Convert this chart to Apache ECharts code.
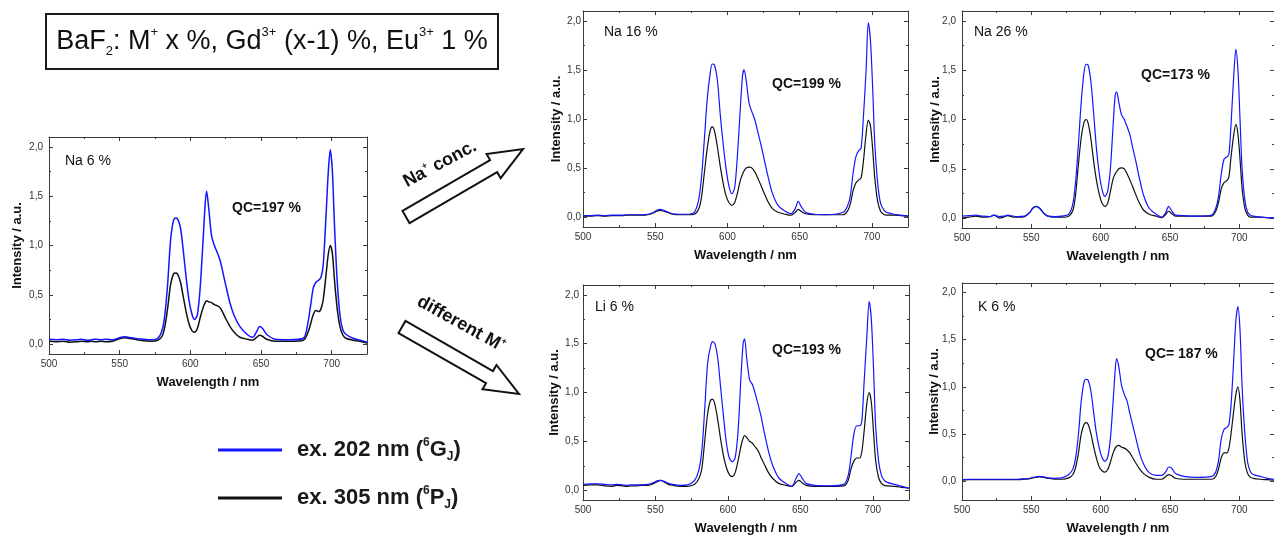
<!DOCTYPE html>
<html>
<head>
<meta charset="utf-8">
<script src="https://cdn.jsdelivr.net/npm/echarts@6/dist/echarts.min.js"></script>
<style>
html,body{margin:0;padding:0;background:#fff}
#c{width:1274px;height:536px}
</style>
</head>
<body>
<div id="c"></div>
<script>
// Sampling wavelengths (nm), shared by every spectrum below
const wavelength = [500,505,510,515,520,523,527,530,533,537,
  540,545,549,551,553.5,556,559,562,567,572,
  577,580,582,584,586,588,589.5,591,593,595,
  597,599,601,603,605,607,609,610.5,611.5,613,
  615,617,619,621,623,625,628,631,635,640,
  644,647,649,651,654,660,670,680,683,685,
  687,689,691,692.5,694,696,697.5,699,700.5,702,
  704,706,708,710,715,720,725];

// Na 6 %
const na6Ex202 = [0.05,0.045,0.05,0.04,0.045,0.05,0.04,0.045,0.05,0.045,
  0.05,0.045,0.06,0.07,0.075,0.07,0.065,0.055,0.05,0.045,
  0.06,0.14,0.3,0.62,1.05,1.25,1.28,1.27,1.18,0.95,
  0.68,0.45,0.31,0.25,0.3,0.58,1.05,1.42,1.55,1.38,
  1.1,1.0,0.93,0.85,0.73,0.6,0.42,0.29,0.18,0.1,
  0.07,0.13,0.18,0.16,0.1,0.05,0.045,0.06,0.2,0.38,
  0.57,0.63,0.65,0.68,0.8,1.3,1.72,1.97,1.75,1.2,
  0.62,0.28,0.14,0.1,0.06,0.04,0.02];
const na6Ex305 = [0.03,0.025,0.03,0.02,0.025,0.03,0.025,0.03,0.025,0.03,
  0.025,0.03,0.05,0.06,0.065,0.06,0.055,0.045,0.035,0.03,
  0.04,0.08,0.18,0.37,0.6,0.71,0.72,0.71,0.63,0.48,
  0.33,0.21,0.14,0.12,0.16,0.27,0.37,0.42,0.44,0.43,
  0.42,0.4,0.39,0.37,0.32,0.26,0.18,0.12,0.07,0.05,
  0.04,0.07,0.09,0.08,0.05,0.03,0.03,0.04,0.11,0.2,
  0.3,0.34,0.33,0.36,0.45,0.7,0.9,1.0,0.92,0.65,
  0.35,0.17,0.09,0.06,0.04,0.03,0.01];

// Na 16 %
const na16Ex202 = [0.015,0.015,0.02,0.015,0.02,0.02,0.02,0.025,0.025,0.025,
  0.025,0.03,0.05,0.07,0.08,0.07,0.05,0.035,0.03,0.03,
  0.05,0.17,0.4,0.79,1.2,1.46,1.56,1.55,1.4,1.05,
  0.75,0.5,0.32,0.24,0.3,0.65,1.13,1.45,1.5,1.39,
  1.16,1.07,0.99,0.87,0.75,0.62,0.42,0.25,0.12,0.06,
  0.035,0.09,0.16,0.11,0.05,0.03,0.025,0.05,0.11,0.21,
  0.45,0.62,0.68,0.7,0.99,1.5,1.98,1.8,1.33,0.75,
  0.35,0.14,0.08,0.05,0.03,0.02,0.01];
const na16Ex305 = [0.01,0.01,0.015,0.01,0.015,0.015,0.015,0.02,0.02,0.02,
  0.02,0.025,0.045,0.06,0.07,0.06,0.045,0.03,0.025,0.025,
  0.03,0.08,0.2,0.45,0.7,0.88,0.92,0.88,0.72,0.52,
  0.35,0.22,0.15,0.12,0.15,0.25,0.38,0.44,0.47,0.5,
  0.51,0.5,0.46,0.4,0.33,0.26,0.16,0.09,0.05,0.03,
  0.02,0.05,0.08,0.06,0.035,0.025,0.025,0.025,0.06,0.13,
  0.27,0.35,0.38,0.4,0.55,0.85,0.99,0.93,0.7,0.4,
  0.16,0.06,0.03,0.02,0.02,0.015,0.01];

// Na 26 %
const na26Ex202 = [0.02,0.025,0.03,0.02,0.015,0.03,0.015,0.02,0.03,0.02,
  0.015,0.02,0.06,0.1,0.12,0.1,0.05,0.02,0.015,0.02,
  0.04,0.15,0.38,0.76,1.18,1.48,1.56,1.55,1.38,1.05,
  0.7,0.45,0.29,0.22,0.27,0.5,0.95,1.25,1.28,1.18,
  1.05,1.0,0.93,0.85,0.72,0.6,0.4,0.23,0.1,0.04,
  0.01,0.06,0.12,0.08,0.03,0.025,0.02,0.03,0.1,0.22,
  0.45,0.6,0.62,0.65,0.95,1.45,1.71,1.5,1.0,0.5,
  0.18,0.06,0.03,0.02,0.01,0.005,0.0];
const na26Ex305 = [0.0,0.01,0.02,0.01,0.015,0.03,0.0,0.01,0.025,0.01,
  0.01,0.015,0.06,0.1,0.12,0.1,0.05,0.02,0.01,0.01,
  0.02,0.08,0.25,0.55,0.82,0.97,1.0,0.96,0.8,0.57,
  0.38,0.24,0.15,0.12,0.15,0.27,0.4,0.45,0.47,0.5,
  0.51,0.5,0.45,0.39,0.32,0.25,0.15,0.08,0.04,0.02,
  0.005,0.04,0.07,0.05,0.02,0.02,0.02,0.02,0.07,0.16,
  0.3,0.36,0.38,0.42,0.62,0.85,0.95,0.85,0.6,0.3,
  0.1,0.03,0.01,0.01,0.01,0.005,0.0];

// Li 6 %
const li6Ex202 = [0.06,0.065,0.065,0.06,0.055,0.06,0.055,0.05,0.055,0.055,
  0.055,0.06,0.08,0.095,0.1,0.09,0.07,0.06,0.05,0.055,
  0.1,0.21,0.4,0.83,1.3,1.47,1.52,1.5,1.35,1.05,
  0.75,0.48,0.33,0.29,0.33,0.6,1.15,1.5,1.55,1.35,
  1.13,1.08,0.98,0.87,0.75,0.6,0.4,0.25,0.13,0.07,
  0.04,0.12,0.17,0.13,0.07,0.05,0.045,0.06,0.15,0.35,
  0.58,0.66,0.66,0.72,1.1,1.6,1.93,1.75,1.25,0.65,
  0.3,0.15,0.1,0.08,0.06,0.04,0.02];
const li6Ex305 = [0.05,0.055,0.055,0.045,0.04,0.05,0.045,0.04,0.045,0.045,
  0.05,0.05,0.07,0.085,0.1,0.085,0.06,0.05,0.04,0.04,
  0.06,0.12,0.22,0.5,0.78,0.92,0.93,0.88,0.72,0.52,
  0.35,0.23,0.16,0.14,0.18,0.3,0.45,0.53,0.56,0.54,
  0.5,0.48,0.44,0.4,0.33,0.27,0.18,0.12,0.07,0.05,
  0.04,0.08,0.1,0.08,0.05,0.04,0.04,0.045,0.1,0.22,
  0.3,0.33,0.33,0.4,0.6,0.9,1.0,0.9,0.6,0.3,
  0.13,0.07,0.05,0.045,0.04,0.03,0.02];

// K 6 %
const k6Ex202 = [0.015,0.02,0.02,0.02,0.02,0.02,0.02,0.02,0.02,0.02,
  0.02,0.025,0.03,0.04,0.045,0.05,0.045,0.035,0.03,0.035,
  0.07,0.13,0.25,0.5,0.85,1.05,1.08,1.07,0.95,0.72,
  0.5,0.35,0.25,0.21,0.25,0.45,0.85,1.18,1.3,1.22,
  1.02,0.92,0.85,0.72,0.6,0.48,0.3,0.18,0.09,0.06,
  0.06,0.1,0.15,0.14,0.08,0.05,0.04,0.05,0.1,0.22,
  0.45,0.55,0.57,0.6,0.8,1.3,1.7,1.85,1.6,1.0,
  0.5,0.2,0.1,0.07,0.05,0.03,0.02];
const k6Ex305 = [0.01,0.015,0.015,0.015,0.015,0.015,0.015,0.015,0.015,0.015,
  0.015,0.02,0.025,0.035,0.04,0.045,0.04,0.03,0.02,0.02,
  0.035,0.07,0.15,0.3,0.5,0.6,0.62,0.6,0.5,0.36,
  0.24,0.15,0.11,0.095,0.12,0.2,0.3,0.35,0.37,0.38,
  0.36,0.35,0.33,0.3,0.25,0.2,0.13,0.08,0.04,0.02,
  0.02,0.05,0.07,0.06,0.03,0.02,0.02,0.02,0.05,0.13,
  0.25,0.3,0.3,0.35,0.5,0.75,0.92,1.0,0.85,0.5,
  0.2,0.08,0.04,0.03,0.02,0.015,0.01];

// Axis ticks
const xMajor = [500, 550, 600, 650, 700];
const xMinor = [525, 575, 625, 675, 725];
const yMajor = [0, 0.5, 1, 1.5, 2];
const yMinor = [0.25, 0.75, 1.25, 1.75];

// Panel texts and value ranges
const panelNames = ['Na 6 %', 'Na 16 %', 'Na 26 %', 'Li 6 %', 'K 6 %'];
const qcLabels = ['QC=197 %', 'QC=199 %', 'QC=173 %', 'QC=193 %', 'QC= 187 %'];
const yMins = [-0.1, -0.1, -0.1, -0.1, -0.2];
const ex202Sets = [na6Ex202, na16Ex202, na26Ex202, li6Ex202, k6Ex202];
const ex305Sets = [na6Ex305, na16Ex305, na26Ex305, li6Ex305, k6Ex305];
const seriesNames = ['ex. 202 nm', 'ex. 305 nm'];

// ---- styling / layout ----
const FONT = "'Liberation Sans', Arial, Helvetica, sans-serif";
const AX = '#3a3a3a';
const BLUE = '#1515ff';
const BLACK = '#111111';

const panels = [
  {left: 49,  top: 137, width: 318, height: 217, yGap: 25, yMargin: 6, name: [65, 161],  qc: [232, 208],  lw: 1.5},
  {left: 583, top: 11,  width: 325, height: 216, yGap: 20, yMargin: 2, name: [604, 32],  qc: [772, 84],   lw: 1.2},
  {left: 962, top: 11,  width: 320, height: 217, yGap: 20, yMargin: 6, name: [974, 32],  qc: [1141, 75],  lw: 1.2},
  {left: 583, top: 285, width: 326, height: 216, yGap: 22, yMargin: 4, name: [595, 307], qc: [772, 350],  lw: 1.2},
  {left: 962, top: 283, width: 320, height: 217, yGap: 21, yMargin: 6, name: [978, 307], qc: [1145, 354], lw: 1.2}
];

const fmt = v => v.toFixed(1).replace('.', ',');

const grids = [], xAxes = [], yAxes = [], series = [], graphics = [];

panels.forEach((g, p) => {
  grids.push({left: g.left, top: g.top, width: g.width, height: g.height, show: false});
  const xIdx = xAxes.length, yIdx = yAxes.length;
  const xb = {type: 'value', gridIndex: p, min: 500, max: 725, splitLine: {show: false}};
  const yb = {type: 'value', gridIndex: p, min: yMins[p], max: 2.1, splitLine: {show: false}};
  const tickStyle = {color: AX, width: 1};
  const nameStyle = {fontWeight: 'bold', fontSize: 13, color: '#111', fontFamily: FONT};
  // bottom axis with labels, ticks pointing into the frame
  xAxes.push(Object.assign({}, xb, {
    position: 'bottom',
    axisLine: {onZero: false, lineStyle: {color: AX, width: 1}},
    axisTick: {customValues: xMajor, inside: true, length: 4, lineStyle: tickStyle},
    axisLabel: {customValues: xMajor, color: '#333', fontSize: 10, fontFamily: FONT, margin: 5},
    name: 'Wavelength / nm', nameLocation: 'middle', nameGap: 22, nameMoveOverlap: false,
    nameTextStyle: nameStyle
  }));
  xAxes.push(Object.assign({}, xb, {
    position: 'bottom', axisLine: {show: false, onZero: false},
    axisTick: {customValues: xMinor, inside: true, length: 2, lineStyle: tickStyle}, axisLabel: {show: false}
  }));
  // mirrored top axis
  xAxes.push(Object.assign({}, xb, {
    position: 'top', axisLine: {onZero: false, lineStyle: {color: AX, width: 1}},
    axisTick: {customValues: xMajor, inside: true, length: 4, lineStyle: tickStyle}, axisLabel: {show: false}
  }));
  xAxes.push(Object.assign({}, xb, {
    position: 'top', axisLine: {show: false, onZero: false},
    axisTick: {customValues: xMinor, inside: true, length: 2, lineStyle: tickStyle}, axisLabel: {show: false}
  }));
  // left axis with labels
  yAxes.push(Object.assign({}, yb, {
    position: 'left',
    axisLine: {onZero: false, lineStyle: {color: AX, width: 1}},
    axisTick: {customValues: yMajor, inside: true, length: 4, lineStyle: tickStyle},
    axisLabel: {customValues: yMajor, formatter: fmt, color: '#333', fontSize: 10, fontFamily: FONT, margin: g.yMargin},
    name: 'Intensity / a.u.', nameLocation: 'middle', nameGap: g.yGap, nameRotate: 90, nameMoveOverlap: false,
    nameTextStyle: nameStyle
  }));
  yAxes.push(Object.assign({}, yb, {
    position: 'left', axisLine: {show: false, onZero: false},
    axisTick: {customValues: yMinor, inside: true, length: 2, lineStyle: tickStyle}, axisLabel: {show: false}
  }));
  // mirrored right axis
  yAxes.push(Object.assign({}, yb, {
    position: 'right', axisLine: {onZero: false, lineStyle: {color: AX, width: 1}},
    axisTick: {customValues: yMajor, inside: true, length: 4, lineStyle: tickStyle}, axisLabel: {show: false}
  }));
  yAxes.push(Object.assign({}, yb, {
    position: 'right', axisLine: {show: false, onZero: false},
    axisTick: {customValues: yMinor, inside: true, length: 2, lineStyle: tickStyle}, axisLabel: {show: false}
  }));

  const mk = (name, vals, color) => ({
    name: name, type: 'line', xAxisIndex: xIdx, yAxisIndex: yIdx,
    data: wavelength.map((w, i) => [w, vals[i]]),
    showSymbol: false, smooth: 0.3, clip: true,
    lineStyle: {color: color, width: g.lw}, itemStyle: {color: color},
    emphasis: {disabled: true}
  });
  series.push(mk(seriesNames[1], ex305Sets[p], BLACK));
  series.push(mk(seriesNames[0], ex202Sets[p], BLUE));

  graphics.push({type: 'text', x: g.name[0], y: g.name[1],
    style: {text: panelNames[p], font: '14px ' + FONT, fill: '#111', align: 'left', verticalAlign: 'middle'}});
  graphics.push({type: 'text', x: g.qc[0], y: g.qc[1],
    style: {text: qcLabels[p], font: 'bold 14px ' + FONT, fill: '#111', align: 'left', verticalAlign: 'middle'}});
});

// header box
graphics.push({type: 'rect', shape: {x: 46, y: 14, width: 452, height: 55},
  style: {fill: '#fff', stroke: '#1a1a1a', lineWidth: 2}});
graphics.push({type: 'text', x: 272, y: 42, style: {
  text: '{t|BaF}{sb|2}{t|: M}{sp|+}{t| x %, Gd}{sp|3+}{t| (x-1) %, Eu}{sp|3+}{t| 1 %}',
  align: 'center', verticalAlign: 'middle',
  rich: {
    t: {fontSize: 27, fontFamily: FONT, fill: '#111', lineHeight: 32},
    sp: {fontSize: 13, fontFamily: FONT, fill: '#111', lineHeight: 13, verticalAlign: 'top'},
    sb: {fontSize: 13, fontFamily: FONT, fill: '#111', lineHeight: 13, verticalAlign: 'bottom'}
  }
}});

// hollow arrows between the panels
function arrowPoints(x0, y0, x1, y1, halfShaft, halfHead, headLen) {
  const dx = x1 - x0, dy = y1 - y0, L = Math.hypot(dx, dy);
  const ux = dx / L, uy = dy / L, nx = -uy, ny = ux;
  const at = (a, b) => [x0 + ux * a + nx * b, y0 + uy * a + ny * b];
  return [at(0, -halfShaft), at(L - headLen, -halfShaft), at(L - headLen, -halfHead), at(L, 0),
          at(L - headLen, halfHead), at(L - headLen, halfShaft), at(0, halfShaft)];
}
graphics.push({type: 'polygon', shape: {points: arrowPoints(406, 217, 523, 149, 7, 14, 34)},
  style: {fill: '#fff', stroke: '#111', lineWidth: 2}});
graphics.push({type: 'polygon', shape: {points: arrowPoints(402, 327, 519, 394, 7, 14, 34)},
  style: {fill: '#fff', stroke: '#111', lineWidth: 2}});
const arrowRich = {
  b: {fontSize: 18, fontWeight: 'bold', fontFamily: FONT, fill: '#111', lineHeight: 20},
  s: {fontSize: 9, fontWeight: 'bold', fontFamily: FONT, fill: '#111', lineHeight: 9, verticalAlign: 'top'}
};
graphics.push({type: 'text', x: 440, y: 164, rotation: 28 * Math.PI / 180,
  style: {text: '{b|Na}{s|+}{b| conc.}', align: 'center', verticalAlign: 'middle', rich: arrowRich}});
graphics.push({type: 'text', x: 461, y: 324, rotation: -29 * Math.PI / 180,
  style: {text: '{b|different M}{s|+}', align: 'center', verticalAlign: 'middle', rich: arrowRich}});

const legendText = {
  'ex. 202 nm': '{gap|}{b|ex. 202 nm (}{s|6}{b|G}{u|J}{b|)}',
  'ex. 305 nm': '{gap|}{b|ex. 305 nm (}{s|6}{b|P}{u|J}{b|)}'
};

const chart = echarts.init(document.getElementById('c'), null, {renderer: 'canvas'});
chart.setOption({
  animation: false,
  backgroundColor: '#fff',
  grid: grids,
  xAxis: xAxes,
  yAxis: yAxes,
  series: series,
  legend: {
    data: seriesNames, orient: 'vertical', left: 218, top: 437, padding: 0,
    icon: 'rect', itemWidth: 64, itemHeight: 3, itemGap: 22, selectedMode: false,
    formatter: name => legendText[name],
    textStyle: {
      rich: {
        gap: {width: 10},
        b: {fontSize: 22, fontWeight: 'bold', fontFamily: FONT, color: '#1a1a1a', lineHeight: 26},
        s: {fontSize: 12, fontWeight: 'bold', fontFamily: FONT, color: '#1a1a1a', lineHeight: 12, verticalAlign: 'top'},
        u: {fontSize: 12, fontWeight: 'bold', fontFamily: FONT, color: '#1a1a1a', lineHeight: 12, verticalAlign: 'bottom'}
      }
    }
  },
  graphic: graphics
});
</script>
</body>
</html>
